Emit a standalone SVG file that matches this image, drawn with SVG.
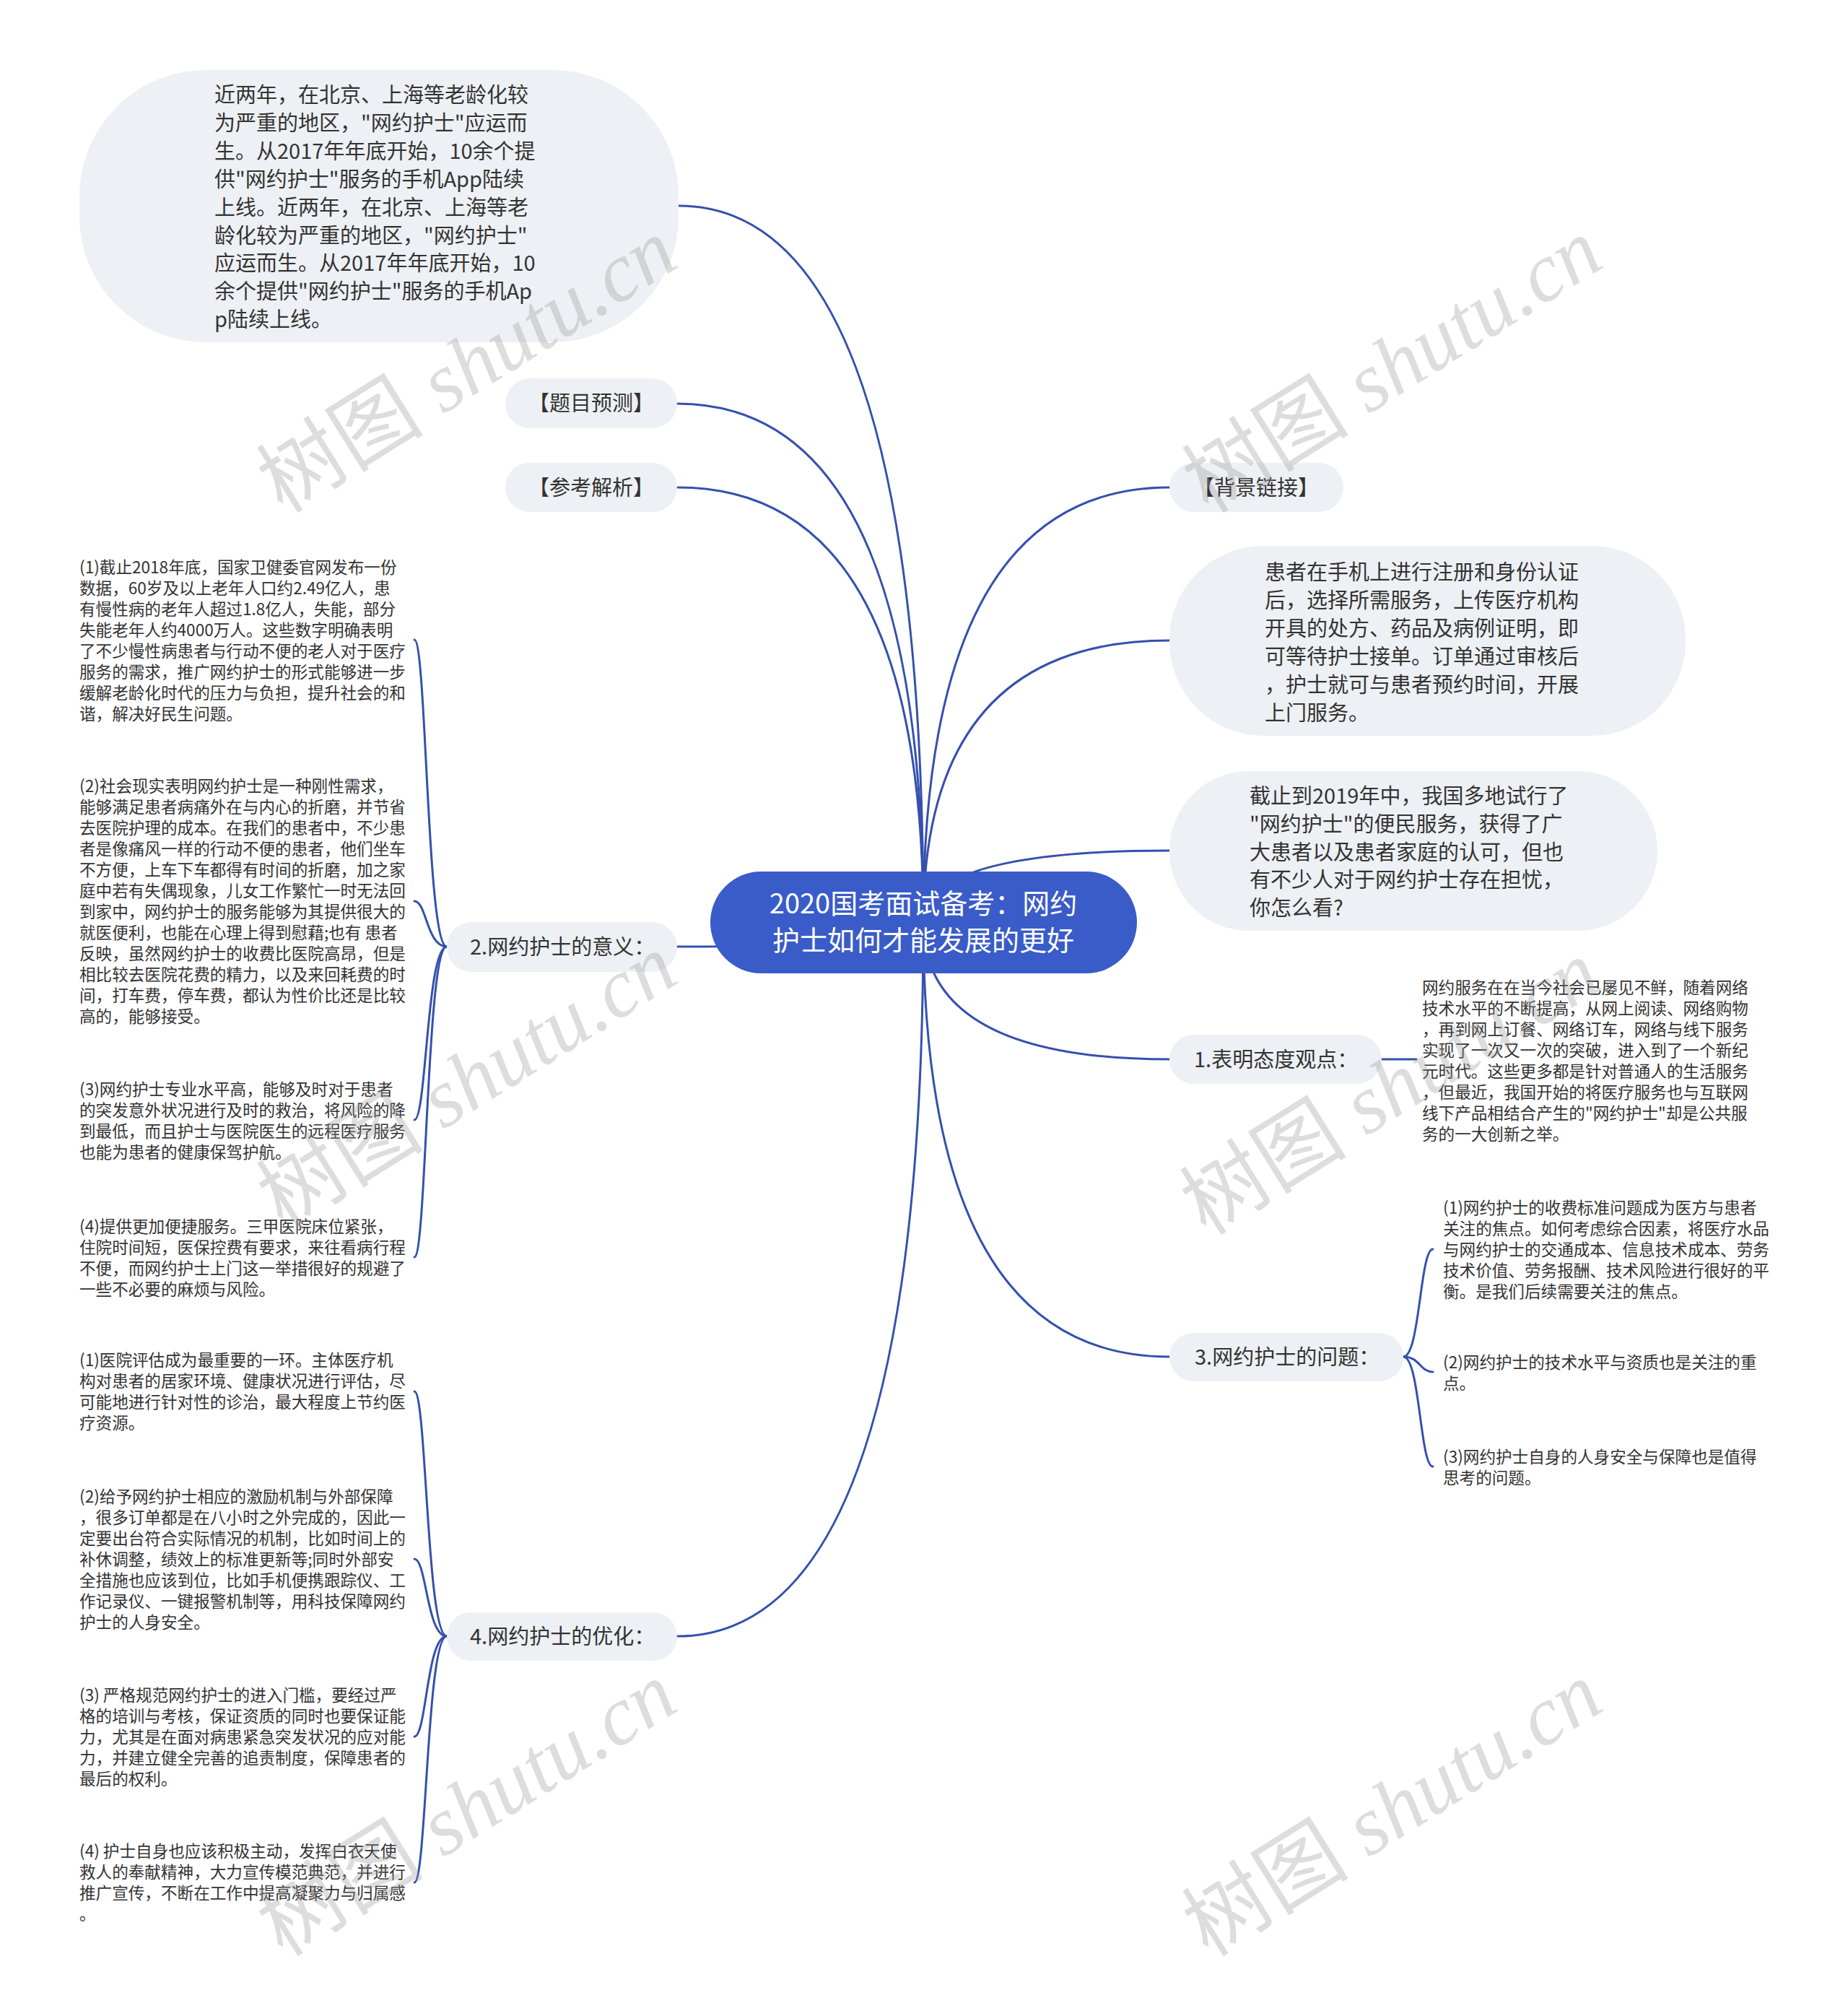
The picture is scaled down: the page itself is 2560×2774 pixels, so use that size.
<svg xmlns="http://www.w3.org/2000/svg" width="2560" height="2774" viewBox="0 0 2560 2774">
<style>
.bg{fill:#ffffff}
.pill{fill:#EDF0F4}
.root{fill:#3A5CC8}
.t{font-family:'Noto Sans CJK SC','Noto Sans',sans-serif;fill:#333333;font-size:29px}
.s{font-size:22.6px}
.c{font-family:'Noto Sans CJK SC','Noto Sans',sans-serif;fill:#ffffff;font-size:38px}
.e{fill:none;stroke:#3550AE;stroke-width:3;stroke-linecap:round}
.wm{font-family:'Liberation Serif','Noto Sans CJK SC',serif;font-size:116px;fill:#999999;opacity:0.33}
</style>
<rect class="bg" x="0" y="0" width="2560" height="2774"/>

<g id="connectors">
<path class="e" d="M1279,1277 Q1279,285 940,285"/>
<path class="e" d="M1279,1277 Q1279,559 938,559"/>
<path class="e" d="M1279,1277 Q1279,675 938,675"/>
<path class="e" d="M1279,1277 Q1279,675 1620,675"/>
<path class="e" d="M1279,1277 Q1279,887 1620,887"/>
<path class="e" d="M1279,1277 Q1279,1178 1620,1178"/>
<path class="e" d="M1279,1277 Q1279,1467 1620,1467"/>
<path class="e" d="M1279,1277 Q1279,1879 1620,1879"/>
<path class="e" d="M1279,1277 Q1279,1311 938,1311"/>
<path class="e" d="M1279,1277 Q1279,2266 938,2266"/>
<path class="e" d="M1914,1467 L1962,1467"/>
<path class="e" d="M619,1311 C591,1311 591,886 574,886"/>
<path class="e" d="M619,1311 C591,1311 591,1248 574,1248"/>
<path class="e" d="M619,1311 C591,1311 591,1551 574,1551"/>
<path class="e" d="M619,1311 C591,1311 591,1741 574,1741"/>
<path class="e" d="M619,2266 C591,2266 591,1927 574,1927"/>
<path class="e" d="M619,2266 C591,2266 591,2159 574,2159"/>
<path class="e" d="M619,2266 C591,2266 591,2405 574,2405"/>
<path class="e" d="M619,2266 C591,2266 591,2607 574,2607"/>
<path class="e" d="M1944,1879 C1967,1879 1967,1730 1985,1730"/>
<path class="e" d="M1944,1879 C1967,1879 1967,1900 1985,1900"/>
<path class="e" d="M1944,1879 C1967,1879 1967,2031 1985,2031"/>
</g>

<g id="root">
<rect class="root" x="984" y="1207" width="591" height="141" rx="70.5"/>
<text class="c" text-anchor="middle" x="1279" y="1265">2020国考面试备考：网约<tspan x="1279" dy="51">护士如何才能发展的更好</tspan></text>
</g>

<g id="n-intro">
<rect class="pill" x="110" y="97" width="830" height="377" rx="175"/>
<text class="t" x="297" y="142">近两年，在北京、上海等老龄化较<tspan x="297" dy="38.9">为严重的地区，"网约护士"应运而</tspan><tspan x="297" dy="38.9">生。从2017年年底开始，10余个提</tspan><tspan x="297" dy="38.9">供"网约护士"服务的手机App陆续</tspan><tspan x="297" dy="38.9">上线。近两年，在北京、上海等老</tspan><tspan x="297" dy="38.9">龄化较为严重的地区，"网约护士"</tspan><tspan x="297" dy="38.9">应运而生。从2017年年底开始，10</tspan><tspan x="297" dy="38.9">余个提供"网约护士"服务的手机Ap</tspan><tspan x="297" dy="38.9">p陆续上线。</tspan></text>
</g>

<g id="n-predict">
<rect class="pill" x="700" y="524" width="238" height="69" rx="34.5"/>
<text class="t" text-anchor="middle" x="819" y="569">【题目预测】</text>
</g>

<g id="n-analysis">
<rect class="pill" x="700" y="641" width="238" height="68" rx="34"/>
<text class="t" text-anchor="middle" x="819" y="686">【参考解析】</text>
</g>

<g id="n-background">
<rect class="pill" x="1620" y="641" width="241" height="68" rx="34"/>
<text class="t" text-anchor="middle" x="1740" y="686">【背景链接】</text>
</g>

<g id="n-bg-text">
<rect class="pill" x="1620" y="756" width="715" height="263" rx="130"/>
<text class="t" x="1752" y="803">患者在手机上进行注册和身份认证<tspan x="1752" dy="39">后，选择所需服务，上传医疗机构</tspan><tspan x="1752" dy="39">开具的处方、药品及病例证明，即</tspan><tspan x="1752" dy="39">可等待护士接单。订单通过审核后</tspan><tspan x="1752" dy="39">，护士就可与患者预约时间，开展</tspan><tspan x="1752" dy="39">上门服务。</tspan></text>
</g>

<g id="n-question">
<rect class="pill" x="1620" y="1068" width="676" height="221" rx="110"/>
<text class="t" x="1731" y="1113">截止到2019年中，我国多地试行了<tspan x="1731" dy="38.8">"网约护士"的便民服务，获得了广</tspan><tspan x="1731" dy="38.8">大患者以及患者家庭的认可，但也</tspan><tspan x="1731" dy="38.8">有不少人对于网约护士存在担忧，</tspan><tspan x="1731" dy="38.8">你怎么看?</tspan></text>
</g>

<g id="n-1">
<rect class="pill" x="1620" y="1433" width="294" height="68" rx="34"/>
<text class="t" x="1654" y="1478">1.表明态度观点：</text>
</g>

<g id="n-1-text">
<text class="t s" x="1970" y="1376">网约服务在在当今社会已屡见不鲜，随着网络<tspan x="1970" dy="29">技术水平的不断提高，从网上阅读、网络购物</tspan><tspan x="1970" dy="29">，再到网上订餐、网络订车，网络与线下服务</tspan><tspan x="1970" dy="29">实现了一次又一次的突破，进入到了一个新纪</tspan><tspan x="1970" dy="29">元时代。这些更多都是针对普通人的生活服务</tspan><tspan x="1970" dy="29">，但最近，我国开始的将医疗服务也与互联网</tspan><tspan x="1970" dy="29">线下产品相结合产生的"网约护士"却是公共服</tspan><tspan x="1970" dy="29">务的一大创新之举。</tspan></text>
</g>

<g id="n-3">
<rect class="pill" x="1620" y="1846" width="324" height="67" rx="33.5"/>
<text class="t" x="1655" y="1890">3.网约护士的问题：</text>
</g>

<g id="n-3-1">
<text class="t s" x="1999" y="1681">(1)网约护士的收费标准问题成为医方与患者<tspan x="1999" dy="29">关注的焦点。如何考虑综合因素，将医疗水品</tspan><tspan x="1999" dy="29">与网约护士的交通成本、信息技术成本、劳务</tspan><tspan x="1999" dy="29">技术价值、劳务报酬、技术风险进行很好的平</tspan><tspan x="1999" dy="29">衡。是我们后续需要关注的焦点。</tspan></text>
</g>
<g id="n-3-2">
<text class="t s" x="1999" y="1895">(2)网约护士的技术水平与资质也是关注的重<tspan x="1999" dy="29">点。</tspan></text>
</g>
<g id="n-3-3">
<text class="t s" x="1999" y="2026">(3)网约护士自身的人身安全与保障也是值得<tspan x="1999" dy="29">思考的问题。</tspan></text>
</g>

<g id="n-2">
<rect class="pill" x="619" y="1277" width="319" height="69" rx="34.5"/>
<text class="t" x="651" y="1322">2.网约护士的意义：</text>
</g>

<g id="n-2-1">
<text class="t s" x="110" y="794">(1)截止2018年底，国家卫健委官网发布一份<tspan x="110" dy="29">数据，60岁及以上老年人口约2.49亿人，患</tspan><tspan x="110" dy="29">有慢性病的老年人超过1.8亿人，失能，部分</tspan><tspan x="110" dy="29">失能老年人约4000万人。这些数字明确表明</tspan><tspan x="110" dy="29">了不少慢性病患者与行动不便的老人对于医疗</tspan><tspan x="110" dy="29">服务的需求，推广网约护士的形式能够进一步</tspan><tspan x="110" dy="29">缓解老龄化时代的压力与负担，提升社会的和</tspan><tspan x="110" dy="29">谐，解决好民生问题。</tspan></text>
</g>
<g id="n-2-2">
<text class="t s" x="110" y="1097">(2)社会现实表明网约护士是一种刚性需求，<tspan x="110" dy="29">能够满足患者病痛外在与内心的折磨，并节省</tspan><tspan x="110" dy="29">去医院护理的成本。在我们的患者中，不少患</tspan><tspan x="110" dy="29">者是像痛风一样的行动不便的患者，他们坐车</tspan><tspan x="110" dy="29">不方便，上车下车都得有时间的折磨，加之家</tspan><tspan x="110" dy="29">庭中若有失偶现象，儿女工作繁忙一时无法回</tspan><tspan x="110" dy="29">到家中，网约护士的服务能够为其提供很大的</tspan><tspan x="110" dy="29">就医便利，也能在心理上得到慰藉;也有 患者</tspan><tspan x="110" dy="29">反映，虽然网约护士的收费比医院高昂，但是</tspan><tspan x="110" dy="29">相比较去医院花费的精力，以及来回耗费的时</tspan><tspan x="110" dy="29">间，打车费，停车费，都认为性价比还是比较</tspan><tspan x="110" dy="29">高的，能够接受。</tspan></text>
</g>
<g id="n-2-3">
<text class="t s" x="110" y="1517">(3)网约护士专业水平高，能够及时对于患者<tspan x="110" dy="29">的突发意外状况进行及时的救治，将风险的降</tspan><tspan x="110" dy="29">到最低，而且护士与医院医生的远程医疗服务</tspan><tspan x="110" dy="29">也能为患者的健康保驾护航。</tspan></text>
</g>
<g id="n-2-4">
<text class="t s" x="110" y="1707">(4)提供更加便捷服务。三甲医院床位紧张，<tspan x="110" dy="29">住院时间短，医保控费有要求，来往看病行程</tspan><tspan x="110" dy="29">不便，而网约护士上门这一举措很好的规避了</tspan><tspan x="110" dy="29">一些不必要的麻烦与风险。</tspan></text>
</g>

<g id="n-4">
<rect class="pill" x="619" y="2233" width="319" height="67" rx="33.5"/>
<text class="t" x="651" y="2277">4.网约护士的优化：</text>
</g>

<g id="n-4-1">
<text class="t s" x="110" y="1892">(1)医院评估成为最重要的一环。主体医疗机<tspan x="110" dy="29">构对患者的居家环境、健康状况进行评估，尽</tspan><tspan x="110" dy="29">可能地进行针对性的诊治，最大程度上节约医</tspan><tspan x="110" dy="29">疗资源。</tspan></text>
</g>
<g id="n-4-2">
<text class="t s" x="110" y="2081">(2)给予网约护士相应的激励机制与外部保障<tspan x="110" dy="29">，很多订单都是在八小时之外完成的，因此一</tspan><tspan x="110" dy="29">定要出台符合实际情况的机制，比如时间上的</tspan><tspan x="110" dy="29">补休调整，绩效上的标准更新等;同时外部安</tspan><tspan x="110" dy="29">全措施也应该到位，比如手机便携跟踪仪、工</tspan><tspan x="110" dy="29">作记录仪、一键报警机制等，用科技保障网约</tspan><tspan x="110" dy="29">护士的人身安全。</tspan></text>
</g>
<g id="n-4-3">
<text class="t s" x="110" y="2356">(3) 严格规范网约护士的进入门槛，要经过严<tspan x="110" dy="29">格的培训与考核，保证资质的同时也要保证能</tspan><tspan x="110" dy="29">力，尤其是在面对病患紧急突发状况的应对能</tspan><tspan x="110" dy="29">力，并建立健全完善的追责制度，保障患者的</tspan><tspan x="110" dy="29">最后的权利。</tspan></text>
</g>
<g id="n-4-4">
<text class="t s" x="110" y="2572">(4) 护士自身也应该积极主动，发挥白衣天使<tspan x="110" dy="29">救人的奉献精神，大力宣传模范典范，并进行</tspan><tspan x="110" dy="29">推广宣传，不断在工作中提高凝聚力与归属感</tspan><tspan x="110" dy="29">。</tspan></text>
</g>

<g id="watermarks">
<text class="wm" text-anchor="middle" transform="translate(668,540) rotate(-32)">树图 <tspan font-style="italic">shutu.cn</tspan></text>
<text class="wm" text-anchor="middle" transform="translate(1950,540) rotate(-32)">树图 <tspan font-style="italic">shutu.cn</tspan></text>
<text class="wm" text-anchor="middle" transform="translate(668,1531) rotate(-32)">树图 <tspan font-style="italic">shutu.cn</tspan></text>
<text class="wm" text-anchor="middle" transform="translate(1947,1540) rotate(-32)">树图 <tspan font-style="italic">shutu.cn</tspan></text>
<text class="wm" text-anchor="middle" transform="translate(668,2539) rotate(-32)">树图 <tspan font-style="italic">shutu.cn</tspan></text>
<text class="wm" text-anchor="middle" transform="translate(1950,2539) rotate(-32)">树图 <tspan font-style="italic">shutu.cn</tspan></text>
</g>
</svg>
